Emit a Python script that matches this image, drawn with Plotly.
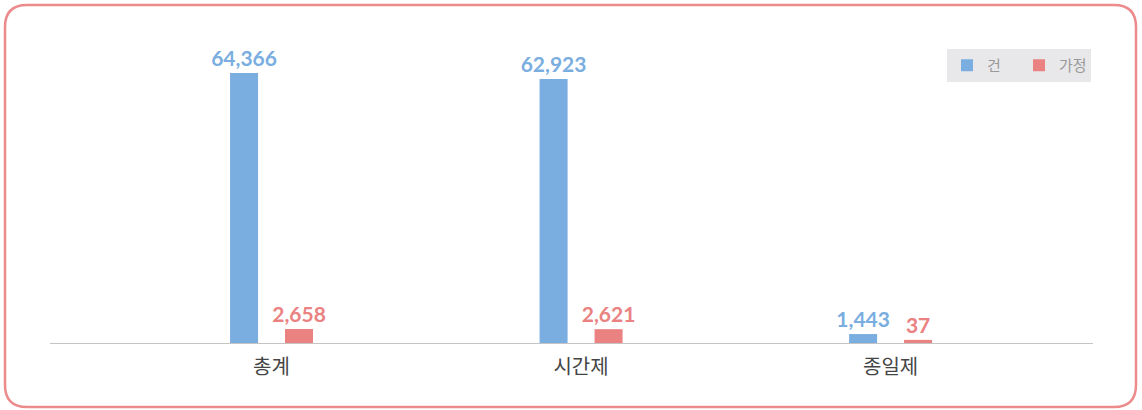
import plotly.graph_objects as go

categories = ["총계", "시간제", "종일제"]
series_names = ["건", "가정"]
values_gun = [64366, 62923, 1443]
values_family = [2658, 2621, 37]
colors = ["#7aaee0", "#ea8282"]

W, H = 1142, 410
L, R, T, B = 50, 49, 20, 67
PW, PH = W - L - R, H - T - B
Y_MIN, Y_MAX = -716, 77142
X_RANGE = [-0.7157, 2.654]

fig = go.Figure()
xs = list(range(len(categories)))
for name, vals, col, off in [(series_names[0], values_gun, colors[0], -0.134),
                             (series_names[1], values_family, colors[1], 0.0436)]:
    fig.add_trace(go.Bar(
        x=xs, y=[v - Y_MIN for v in vals], base=Y_MIN, name=name,
        width=0.0905, offset=off,
        marker=dict(color=col, line=dict(width=0)),
        text=[f"{v:,}" for v in vals], textposition="outside", constraintext="none",
        textfont=dict(family="Lato", size=21, color=col, weight="bold"),
        cliponaxis=False, hoverinfo="skip",
    ))

def px2p(x, y):
    return (x - L) / PW, (H - B - y) / PH

x0, y0, x1, y1, r = 5, 5, 1136, 407, 22
pts = [("M", [(x0 + r, y0)]), ("L", [(x1 - r, y0)]), ("Q", [(x1, y0), (x1, y0 + r)]),
       ("L", [(x1, y1 - r)]), ("Q", [(x1, y1), (x1 - r, y1)]), ("L", [(x0 + r, y1)]),
       ("Q", [(x0, y1), (x0, y1 - r)]), ("L", [(x0, y0 + r)]), ("Q", [(x0, y0), (x0 + r, y0)])]
path = ""
for cmd, ps in pts:
    path += cmd + " " + " ".join(f"{px2p(a, b)[0]:.5f},{px2p(a, b)[1]:.5f}" for a, b in ps) + " "
path += "Z"

fig.update_layout(
    width=W, height=H,
    margin=dict(l=L, r=R, t=T, b=B),
    plot_bgcolor="white", paper_bgcolor="white",
    barmode="overlay",
    showlegend=True,
    legend=dict(orientation="h", x=(1091 - L) / PW, xanchor="right", y=(H - B - 49) / PH, yanchor="top",
                bgcolor="#e8e8ea", font=dict(family="Noto Sans CJK KR", size=15, color="#999999"),
                entrywidth=27, entrywidthmode="pixels", traceorder="normal"),
    xaxis=dict(range=X_RANGE, tickvals=xs, ticktext=categories, showgrid=False, zeroline=False,
               showline=True, linecolor="#c4c4c4", linewidth=1, ticks="", ticklabelstandoff=6,
               tickfont=dict(family="Noto Sans CJK KR", size=20, color="#454545"), fixedrange=True),
    yaxis=dict(range=[Y_MIN, Y_MAX], visible=False, showgrid=False, zeroline=False, fixedrange=True),
    shapes=[dict(type="path", path=path, xref="paper", yref="paper",
                 line=dict(color="#ec8a8c", width=2.5), fillcolor="rgba(0,0,0,0)", layer="above")],
)

fig.write_html("out.html", config={"displayModeBar": False},
               post_script="document.body.style.margin='0';document.body.style.overflow='hidden';")
